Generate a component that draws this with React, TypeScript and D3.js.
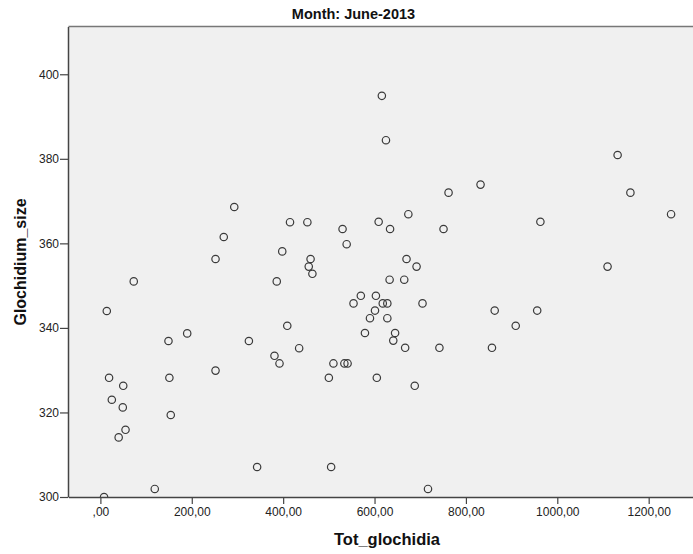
import React, { useEffect, useRef } from 'react';
import * as d3 from 'd3';

// values (Tot_glochidia, Glochidium_size)
const totGlochidia = [
  8, 73, 14, 19, 25, 50, 49, 55, 40, 119, 149, 151, 154, 190, 252, 325, 343, 386, 381,
  392, 409, 435, 464, 500, 505, 510, 534, 541, 293, 270, 252, 415, 453, 398, 460, 456,
  530, 539, 616, 625, 1132, 1160, 1249, 832, 762, 674, 609, 634, 751, 963, 670, 692,
  1110, 633, 665, 570, 603, 554, 618, 628, 705, 601, 863, 956, 590, 628, 579, 645, 909,
  641, 667, 742, 857, 605, 688, 717,
];
const glochidiumSize = [
  300, 351, 344, 328.2, 323, 326.3, 321.2, 315.9, 314.1, 301.9, 336.9, 328.2, 319.4,
  338.7, 329.9, 336.9, 307.1, 351, 333.4, 331.6, 340.5, 335.2, 352.8, 328.2, 307.1,
  331.6, 331.6, 331.6, 368.6, 361.5, 356.3, 365, 365, 358.1, 356.3, 354.5, 363.4, 359.8,
  394.9, 384.4, 380.9, 372, 366.9, 373.9, 372, 366.9, 365.1, 363.4, 363.4, 365.1, 356.3,
  354.5, 354.5, 351.4, 351.4, 347.6, 347.6, 345.8, 345.8, 345.8, 345.8, 344.1, 344.1,
  344.1, 342.3, 342.3, 338.8, 338.8, 340.5, 337, 335.3, 335.3, 335.3, 328.2, 326.3, 301.9,
];
const xTicks = [0, 200, 400, 600, 800, 1000, 1200];
const yTicks = [300, 320, 340, 360, 380, 400];

function App() {
  const svgRef = useRef(null);

  useEffect(() => {
    const svg = d3.select(svgRef.current);
    svg.selectAll('*').remove();

    const width = 693;
    const height = 554;
    const left = 68.5;
    const top = 26.5;
    const bottom = 497;

    const x = d3.scaleLinear().domain([-69.8, 1297]).range([left, width]);
    const y = d3.scaleLinear().domain([300, 411.3]).range([bottom, top]);

    svg.attr('width', width).attr('height', height);

    svg.append('rect')
      .attr('x', left).attr('y', top)
      .attr('width', width - left).attr('height', bottom - top)
      .attr('fill', '#f0f0f0');

    svg.append('clipPath').attr('id', 'plot-clip')
      .append('rect')
      .attr('x', left).attr('y', top)
      .attr('width', width - left).attr('height', bottom - top);

    // points
    svg.append('g')
      .attr('clip-path', 'url(#plot-clip)')
      .selectAll('circle')
      .data(totGlochidia)
      .enter()
      .append('circle')
      .attr('cx', d => x(d))
      .attr('cy', (d, i) => y(glochidiumSize[i]))
      .attr('r', 3.7)
      .attr('fill', 'none')
      .attr('stroke', '#3a3a3a')
      .attr('stroke-width', 1.2);

    // top frame line
    svg.append('line')
      .attr('x1', left).attr('x2', width)
      .attr('y1', top).attr('y2', top)
      .attr('stroke', '#777').attr('stroke-width', 1.5);

    const fmt = (d) => (d === 0 ? ',00' : d.toFixed(2).replace('.', ','));

    const gx = svg.append('g')
      .attr('transform', `translate(0,${bottom})`)
      .call(d3.axisBottom(x).tickValues(xTicks).tickFormat(fmt).tickSize(7).tickSizeOuter(0).tickPadding(3));

    const gy = svg.append('g')
      .attr('transform', `translate(68,0)`)
      .call(d3.axisLeft(y).tickValues(yTicks).tickSize(8).tickSizeOuter(0).tickPadding(1));

    [gx, gy].forEach(g => {
      g.select('.domain').attr('stroke', '#444').attr('stroke-width', 1.5);
      g.selectAll('.tick line').attr('stroke', '#444').attr('stroke-width', 1.2);
      g.selectAll('.tick text')
        .attr('fill', '#222')
        .style('font-family', 'Arial, "Liberation Sans", sans-serif')
        .style('font-size', '12px');
    });

    svg.append('text')
      .attr('x', 353.5).attr('y', 19)
      .attr('text-anchor', 'middle')
      .style('font-family', 'Arial, "Liberation Sans", sans-serif')
      .style('font-size', '14.5px').style('font-weight', 'bold')
      .attr('fill', '#111')
      .text('Month: June-2013');

    svg.append('text')
      .attr('x', 387).attr('y', 545)
      .attr('text-anchor', 'middle')
      .style('font-family', 'Arial, "Liberation Sans", sans-serif')
      .style('font-size', '16.5px').style('font-weight', 'bold')
      .attr('fill', '#111')
      .text('Tot_glochidia');

    svg.append('text')
      .attr('transform', 'translate(26,262) rotate(-90)')
      .attr('text-anchor', 'middle')
      .style('font-family', 'Arial, "Liberation Sans", sans-serif')
      .style('font-size', '16px').style('font-weight', 'bold')
      .attr('fill', '#111')
      .text('Glochidium_size');
  }, []);

  return (
    <svg ref={svgRef} width={693} height={554} style={{ position: 'absolute', left: 0, top: 0 }}></svg>
  );
}

export default App;
